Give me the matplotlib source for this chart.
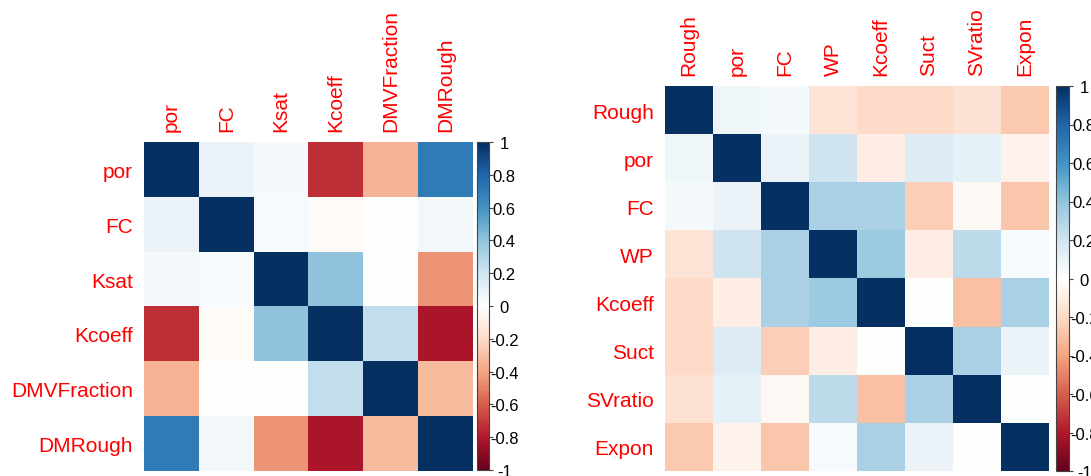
import matplotlib as mpl
mpl.use('Agg')
import matplotlib.pyplot as plt
import numpy as np
from matplotlib.colors import LinearSegmentedColormap

mpl.rcParams.update({
    'font.family': ['Liberation Sans', 'DejaVu Sans'],
    'axes.unicode_minus': False,
})

# correlation matrices
vars_a = ['por', 'FC', 'Ksat', 'Kcoeff', 'DMVFraction', 'DMRough']
corr_a = np.array([
    [1.00, 0.08, 0.04, -0.74, -0.34, 0.70],
    [0.08, 1.00, 0.03, -0.03, -0.01, 0.05],
    [0.04, 0.03, 1.00, 0.40, 0.00, -0.45],
    [-0.74, -0.03, 0.40, 1.00, 0.24, -0.82],
    [-0.34, -0.01, 0.00, 0.24, 1.00, -0.32],
    [0.70, 0.05, -0.45, -0.82, -0.32, 1.00],
])

vars_b = ['Rough', 'por', 'FC', 'WP', 'Kcoeff', 'Suct', 'SVratio', 'Expon']
corr_b = np.array([
    [1.00, 0.06, 0.04, -0.15, -0.20, -0.20, -0.16, -0.27],
    [0.06, 1.00, 0.08, 0.20, -0.10, 0.15, 0.10, -0.07],
    [0.04, 0.08, 1.00, 0.32, 0.32, -0.25, -0.04, -0.28],
    [-0.15, 0.20, 0.32, 1.00, 0.36, -0.10, 0.26, 0.03],
    [-0.20, -0.10, 0.32, 0.36, 1.00, 0.00, -0.30, 0.32],
    [-0.20, 0.15, -0.25, -0.10, 0.00, 1.00, 0.32, 0.08],
    [-0.16, 0.10, -0.04, 0.26, -0.30, 0.32, 1.00, 0.00],
    [-0.27, -0.07, -0.28, 0.03, 0.32, 0.08, 0.00, 1.00],
])

cbar_ticks = [-1, -0.8, -0.6, -0.4, -0.2, 0, 0.2, 0.4, 0.6, 0.8, 1]
cbar_labels = ['-1', '-0.8', '-0.6', '-0.4', '-0.2', '0', '0.2', '0.4', '0.6', '0.8', '1']

# RdBu with a pure white centre
cmap = LinearSegmentedColormap.from_list('rdbu2', [
    '#67001F', '#B2182B', '#D6604D', '#F4A582', '#FDDBC7', '#FFFFFF',
    '#D1E5F0', '#92C5DE', '#4393C3', '#2166AC', '#053061'], N=200)

W, H = 1091, 477
fig = plt.figure(figsize=(W / 100, H / 100), dpi=100)


def px(x, y, w, h):
    return [x / W, (H - y - h) / H, w / W, h / H]


def corrplot(ax, cax, corr, names):
    im = ax.imshow(corr, cmap=cmap, vmin=-1, vmax=1, aspect='auto',
                   interpolation='nearest')
    n = len(names)
    ax.set_xticks(range(n))
    ax.set_yticks(range(n))
    ax.set_xticklabels(names, rotation=90, color='red', fontsize=15)
    ax.set_yticklabels(names, color='red', fontsize=15)
    ax.xaxis.tick_top()
    ax.tick_params(length=0, pad=8)
    for s in ax.spines.values():
        s.set_visible(False)

    cb = fig.colorbar(im, cax=cax)
    cb.set_ticks(cbar_ticks)
    cb.set_ticklabels(cbar_labels)
    cb.outline.set_linewidth(0.8)
    cb.outline.set_edgecolor('#444444')
    cax.tick_params(length=3, width=0.8, color='#444444', pad=8, labelsize=12)
    for t in cax.get_yticklabels():
        t.set_horizontalalignment('center')


ax1 = fig.add_axes(px(144, 143, 329, 329))
cax1 = fig.add_axes(px(477, 143, 12, 328))
corrplot(ax1, cax1, corr_a, vars_a)

ax2 = fig.add_axes(px(665, 87, 384, 385))
cax2 = fig.add_axes(px(1056, 87, 13, 385))
corrplot(ax2, cax2, corr_b, vars_b)

fig.savefig('out.png', dpi=100)
